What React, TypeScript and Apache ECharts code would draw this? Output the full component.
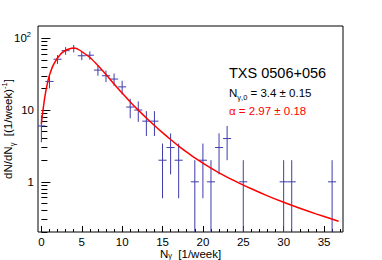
import React, { useEffect, useRef } from "react";
import * as echarts from "echarts";

// Histogram bins (weekly photon counts) that are non-empty
const binCenters = [0, 1, 2, 3, 4, 5, 6, 7, 8, 9, 10, 11, 12, 13, 14, 15, 16, 17, 19, 20, 21, 22, 23, 25, 30, 31, 36];
const counts = [6, 25, 51, 67, 72, 57, 58, 36, 30, 27, 21, 11, 10, 7, 7, 2, 3, 2, 1, 2, 1, 3, 4, 1, 1, 1, 1];
const countErrors = [2.45, 5, 7.14, 8.19, 8.49, 7.55, 7.62, 6, 5.48, 5.2, 4.58, 3.32, 3.16, 2.65, 2.65, 1.41, 1.73, 1.41, 1, 1.41, 1, 1.73, 2, 1, 1, 1, 1];
const binHalfWidth = 0.5;

// Fit curve
const fitX = [0, 0.2, 0.5, 0.82, 1.0, 1.44, 2.0, 2.27, 2.5, 3.0, 3.5, 4.0, 4.5, 5, 6, 7, 8, 9, 10, 11, 12, 13, 14, 15, 16, 17, 18, 19, 20, 22, 24, 26, 28, 30, 32, 34, 36.8];
const fitY = [6.4, 10, 17, 25.6, 30.5, 41.6, 53, 58, 62, 68, 71.5, 72.8, 70.6, 65.2, 53.8, 41.6, 31.2, 23.1, 17.2, 12.97, 9.97, 7.76, 6.1, 4.84, 3.88, 3.15, 2.59, 2.15, 1.82, 1.335, 1.02, 0.8, 0.638, 0.519, 0.428, 0.358, 0.283];

// Axes
const xMin = -0.42;
const xMax = 37.35;
const yMin = 0.2;
const yMax = 148;
const xTickValues = [0, 5, 10, 15, 20, 25, 30, 35];
const xMinorTickValues = [0, 1, 2, 3, 4, 5, 6, 7, 8, 9, 10, 11, 12, 13, 14, 15, 16, 17, 18, 19, 20, 21, 22, 23, 24, 25, 26, 27, 28, 29, 30, 31, 32, 33, 34, 35, 36, 37];
const yTickValues = [1, 10, 100];
const yMinorTickValues = [0.2, 0.3, 0.4, 0.5, 0.6, 0.7, 0.8, 0.9, 2, 3, 4, 5, 6, 7, 8, 9, 20, 30, 40, 50, 60, 70, 80, 90];

const FONT = "'Liberation Sans', Arial, Helvetica, sans-serif";
const BLUE = "#3c3caa";
const RED = "#ff0000";

export default function App() {
  const ref = useRef<HTMLDivElement>(null);

  useEffect(() => {
    if (!ref.current) return;
    const chart = echarts.init(ref.current, null, { renderer: "svg" });

    const crossData = binCenters.map((x, i) => [x, counts[i], countErrors[i]]);
    const fitData = fitX.map((x, i) => [x, fitY[i]]);

    const option: any = {
      animation: false,
      backgroundColor: "#ffffff",
      textStyle: { fontFamily: FONT },
      grid: {
        left: 38,
        right: 39,
        top: 26,
        bottom: 28,
        show: true,
        borderColor: "#000",
        borderWidth: 1,
        backgroundColor: "transparent",
      },
      xAxis: [
        {
          type: "value",
          min: xMin,
          max: xMax,
          position: "bottom",
          axisLine: { show: false },
          splitLine: { show: false },
          axisTick: {
            show: true,
            inside: true,
            length: 6,
            customValues: xTickValues,
            lineStyle: { color: "#000", width: 1 },
          },
          axisLabel: {
            show: true,
            customValues: xTickValues,
            margin: 4,
            fontSize: 11.5,
            lineHeight: 11,
            color: "#000",
            fontFamily: FONT,
          },
        },
        {
          type: "value",
          min: xMin,
          max: xMax,
          position: "bottom",
          axisLine: { show: false },
          splitLine: { show: false },
          axisLabel: { show: false },
          axisTick: {
            show: true,
            inside: true,
            length: 3,
            customValues: xMinorTickValues,
            lineStyle: { color: "#000", width: 1 },
          },
        },
      ],
      yAxis: [
        {
          type: "log",
          logBase: 10,
          min: yMin,
          max: yMax,
          position: "left",
          axisLine: { show: false },
          splitLine: { show: false },
          axisTick: {
            show: true,
            inside: true,
            length: 9,
            customValues: yTickValues,
            lineStyle: { color: "#000", width: 1 },
          },
          axisLabel: {
            show: true,
            customValues: yTickValues,
            margin: 4,
            color: "#000",
            fontFamily: FONT,
            formatter: (v: number) => {
              if (Math.abs(v - 100) < 1e-6) return "{b|10}{p|2}";
              if (Math.abs(v - 10) < 1e-6) return "{b|10}";
              if (Math.abs(v - 1) < 1e-6) return "{b|1}";
              return "";
            },
            rich: {
              b: { fontSize: 11.5, lineHeight: 16, color: "#000", fontFamily: FONT },
              p: { fontSize: 7.5, lineHeight: 8, verticalAlign: "top", color: "#000", fontFamily: FONT, padding: [0, 3, 0, 0] },
            },
          },
        },
        {
          type: "log",
          logBase: 10,
          min: yMin,
          max: yMax,
          position: "left",
          axisLine: { show: false },
          splitLine: { show: false },
          axisLabel: { show: false },
          axisTick: {
            show: true,
            inside: true,
            length: 6,
            customValues: yMinorTickValues,
            lineStyle: { color: "#000", width: 1 },
          },
        },
      ],
      series: [
        {
          type: "custom",
          xAxisIndex: 0,
          yAxisIndex: 0,
          data: crossData,
          clip: true,
          encode: { x: 0, y: 1 },
          renderItem: (params: any, api: any) => {
            const x = api.value(0);
            const y = api.value(1);
            const e = api.value(2);
            const pL = api.coord([x - binHalfWidth, y]);
            const pR = api.coord([x + binHalfWidth, y]);
            const lo = Math.max(y - e, yMin);
            const pLo = api.coord([x, lo]);
            const pHi = api.coord([x, y + e]);
            const style = { stroke: BLUE, lineWidth: 1, fill: null };
            return {
              type: "group",
              children: [
                { type: "line", shape: { x1: pL[0], y1: pL[1], x2: pR[0], y2: pR[1] }, style },
                { type: "line", shape: { x1: pLo[0], y1: pLo[1], x2: pHi[0], y2: pHi[1] }, style },
              ],
            };
          },
          z: 2,
        },
        {
          type: "line",
          xAxisIndex: 0,
          yAxisIndex: 0,
          data: fitData,
          showSymbol: false,
          smooth: 0.3,
          lineStyle: { color: RED, width: 1.5 },
          z: 3,
        },
      ],
      graphic: [
        {
          type: "text",
          x: 190.5,
          y: 253.5,
          style: {
            text: "{t|N}{s|γ}{t|  [1/week]}",
            align: "center",
            verticalAlign: "middle",
            rich: {
              t: { fontSize: 11.5, lineHeight: 11, fill: "#000", fontFamily: FONT },
              s: { fontSize: 7.5, lineHeight: 4, verticalAlign: "bottom", fill: "#000", fontFamily: FONT },
            },
          },
        },
        {
          type: "text",
          x: 8,
          y: 129,
          rotation: Math.PI / 2,
          style: {
            text: "{t|dN/dN}{s|γ}{t|  [(1/week)}{p|-1}{t|]}",
            align: "center",
            verticalAlign: "middle",
            rich: {
              t: { fontSize: 11.5, lineHeight: 16, fill: "#000", fontFamily: FONT },
              s: { fontSize: 7.5, lineHeight: 6, verticalAlign: "bottom", fill: "#000", fontFamily: FONT },
              p: { fontSize: 7.5, lineHeight: 8, verticalAlign: "top", fill: "#000", fontFamily: FONT },
            },
          },
        },
        {
          type: "text",
          x: 229,
          y: 73,
          style: {
            text: "TXS 0506+056",
            fontSize: 14.5,
            fontFamily: FONT,
            fill: "#000",
            align: "left",
            verticalAlign: "middle",
          },
        },
        {
          type: "text",
          x: 229,
          y: 93.3,
          style: {
            text: "{n|N}{s|γ,0}{n| = 3.4 ± 0.15}",
            align: "left",
            verticalAlign: "middle",
            rich: {
              n: { fontSize: 11.5, lineHeight: 16, fill: "#000", fontFamily: FONT },
              s: { fontSize: 7.5, lineHeight: 6, verticalAlign: "bottom", fill: "#000", fontFamily: FONT },
            },
          },
        },
        {
          type: "text",
          x: 229,
          y: 111,
          style: {
            text: "α = 2.97 ± 0.18",
            fontSize: 11.5,
            fontFamily: FONT,
            fill: RED,
            align: "left",
            verticalAlign: "middle",
          },
        },
      ],
    };

    chart.setOption(option);
    return () => {
      chart.dispose();
    };
  }, []);

  return (
    <div
      ref={ref}
      style={{ position: "fixed", left: 0, top: 0, width: 382, height: 260, background: "#fff" }}
    />
  );
}
